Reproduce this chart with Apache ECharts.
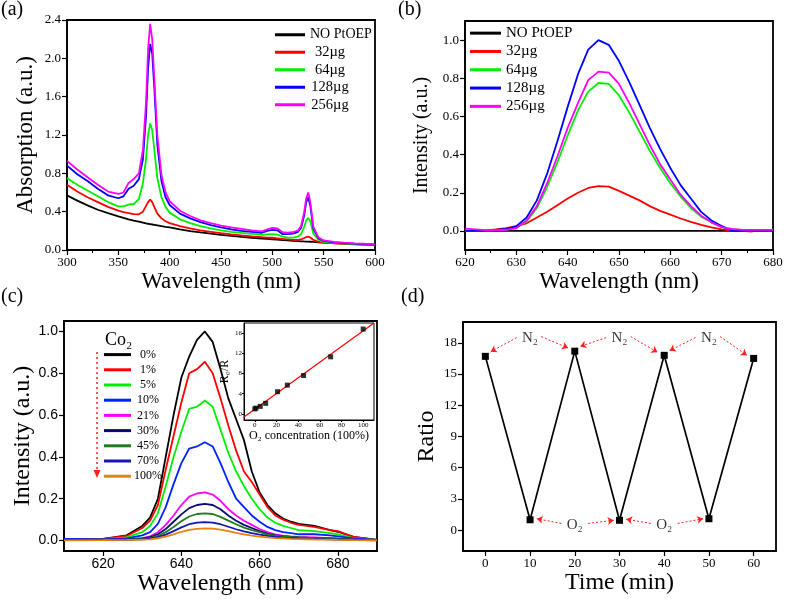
<!DOCTYPE html>
<html><head><meta charset="utf-8">
<script src="https://cdn.jsdelivr.net/npm/echarts@6/dist/echarts.min.js"></script>
<style>html,body{margin:0;padding:0;background:#fff}#c{width:787px;height:599px}</style>
</head><body><div id="c"></div>
<script>
// ---------- DATA ----------
// (a) absorption
const aWave = [300,310,320,330,340,350,355,360,365,370,374,377,379,381,383,385,388,392,396,400,410,420,430,440,450,460,470,480,490,495,500,505,510,515,520,525,528,531,533,535,537,540,545,550,560,570,580,590,600];
const aNone = [.57,.515,.465,.42,.385,.35,.335,.32,.307,.295,.285,.278,.274,.27,.266,.262,.256,.248,.241,.235,.215,.198,.183,.17,.158,.147,.137,.128,.12,.116,.112,.108,.104,.1,.096,.093,.091,.089,.088,.087,.086,.084,.081,.078,.072,.066,.061,.056,.052];
const a32 = [.68,.61,.55,.5,.45,.41,.395,.385,.375,.372,.4,.46,.5,.525,.5,.45,.38,.33,.3,.28,.25,.225,.205,.19,.175,.163,.152,.142,.133,.13,.128,.122,.115,.11,.105,.105,.11,.125,.135,.14,.13,.105,.085,.078,.07,.065,.06,.056,.053];
const a64 = [.75,.68,.62,.56,.5,.455,.455,.475,.48,.53,.7,.95,1.2,1.32,1.25,1.05,.75,.55,.45,.39,.32,.28,.25,.225,.205,.19,.178,.168,.158,.163,.165,.16,.14,.13,.13,.14,.165,.24,.31,.335,.3,.17,.105,.085,.075,.068,.063,.058,.055];
const a128 = [.88,.79,.72,.64,.57,.54,.56,.64,.67,.74,.95,1.4,1.9,2.15,2.05,1.7,1.1,.72,.55,.47,.38,.33,.29,.26,.235,.215,.2,.19,.18,.2,.21,.205,.165,.165,.17,.19,.23,.36,.5,.55,.46,.22,.12,.095,.08,.072,.066,.061,.057];
const a256 = [.93,.84,.76,.68,.61,.585,.6,.7,.74,.8,1.05,1.55,2.1,2.36,2.2,1.8,1.2,.78,.6,.51,.41,.355,.31,.28,.255,.235,.22,.205,.195,.215,.23,.225,.185,.18,.185,.205,.25,.39,.54,.6,.5,.24,.13,.1,.085,.076,.07,.065,.062];
const abNames = ['NO PtOEP','32µg','64µg','128µg','256µg'];
const abColors = ['#000000','#ff0000','#00ee00','#0000ff','#ff00ff'];

// (b) emission
const bWave = [620,622,624,626,628,630,632,634,636,638,640,642,644,646,648,650,652,654,656,658,660,662,664,666,668,670,672,674,676,678,680];
const bNone = [0,0,0,0,0,0,0,0,0,0,0,0,0,0,0,0,0,0,0,0,0,0,0,0,0,0,0,0,0,0,0];
const b32 = [0,0,.003,.008,.015,.025,.04,.07,.1,.135,.17,.2,.225,.235,.232,.21,.185,.16,.13,.105,.085,.065,.047,.032,.018,.008,.002,0,-.003,null,null];
const b64 = [0,0,.002,.004,.006,.015,.05,.12,.23,.36,.5,.63,.73,.775,.77,.71,.62,.52,.42,.33,.25,.18,.12,.075,.045,.02,.008,.005,.005,.005,.005];
const b128 = [0,0,.002,.005,.01,.025,.07,.16,.3,.47,.65,.82,.95,1.0,.975,.89,.78,.66,.54,.43,.33,.24,.17,.1,.055,.025,0,0,.005,.005,.005];
const b256 = [.012,.008,.004,.004,.006,.015,.055,.13,.25,.39,.54,.67,.79,.835,.83,.77,.67,.56,.45,.35,.27,.19,.13,.08,.045,.02,.01,.005,.005,.005,.005];

// (c) emission vs O2 concentration
const cWave = [610,620,626,630,632,634,636,638,640,642,644,646,648,650,652,654,656,658,660,662,664,666,668,670,674,678,680,684,690];
const cNames = ['0%','1%','5%','10%','21%','30%','45%','70%','100%'];
const cColors = ['#000000','#ff0000','#00ee00','#0022ff','#ff00ff','#0a0a6e','#1e7b1e','#1515b4','#e8820c'];
const c0 = [.005,.008,.025,.07,.11,.2,.4,.6,.78,.88,.96,1.0,.95,.82,.68,.58,.48,.33,.23,.17,.13,.105,.09,.08,.07,.05,.042,.018,.003];
const c1 = [.005,.008,.022,.06,.095,.17,.34,.5,.66,.8,.82,.855,.8,.68,.55,.43,.33,.28,.22,.16,.12,.1,.085,.075,.065,.05,.045,.018,.003];
const c5 = [.004,.006,.015,.04,.07,.13,.26,.4,.52,.63,.64,.67,.64,.53,.42,.33,.26,.2,.15,.11,.085,.07,.06,.05,.045,.035,.03,.012,.003];
const c10 = [.008,.006,.01,.025,.04,.08,.16,.27,.37,.44,.45,.47,.45,.37,.28,.2,.16,.12,.09,.065,.05,.04,.035,.03,.03,.025,.02,.01,.003];
const c21 = [.003,.004,.006,.012,.02,.04,.075,.12,.17,.21,.225,.23,.22,.19,.15,.12,.095,.075,.055,.04,.03,.024,.02,.018,.015,.012,.01,.005,.002];
const c30 = [.003,.004,.005,.01,.016,.03,.055,.09,.125,.155,.17,.175,.17,.15,.12,.095,.075,.06,.045,.033,.025,.02,.017,.015,.012,.01,.008,.004,.002];
const c45 = [.002,.003,.004,.008,.012,.022,.04,.065,.092,.115,.127,.13,.127,.113,.095,.078,.062,.05,.04,.03,.024,.02,.017,.015,.012,.01,.008,.004,.002];
const c70 = [.002,.003,.004,.006,.009,.016,.028,.045,.063,.078,.086,.088,.086,.078,.066,.054,.044,.035,.028,.022,.017,.014,.012,.01,.008,.006,.005,.003,.001];
const c100 = [.001,.002,.003,.004,.006,.011,.019,.03,.042,.051,.056,.058,.057,.052,.045,.037,.03,.024,.019,.015,.012,.01,.008,.007,.005,.004,.003,.002,.001];

// (c) inset: R0/R vs O2 concentration
const insetConc = [0,1,5,10,21,30,45,70,100];
const insetRatio = [1.0,1.15,1.5,2.1,4.4,5.7,7.6,11.3,16.8];
const fitConc = [-10,110];
const fitRatio = [-0.6,18.0];

// (d) cycling
const dTime = [0,10,20,30,40,50,60];
const dRatio = [16.7,1.0,17.2,0.95,16.8,1.1,16.5];
const gasN2 = [10,30,50];
const gasO2 = [20,40];

// tick labels
const cxTicks = [620,640,660,680];
const cyTicks = [0,0.2,0.4,0.6,0.8,1.0];
const byTicks = [0,0.2,0.4,0.6,0.8,1.0];
const dxTicks = [0,10,20,30,40,50,60];
const dyTicks = [0,3,6,9,12,15,18];
const ixTicks = [0,20,40,60,80,100];
const iyTicks = [0,4,8,12,16];

// ---------- CHART ----------
const serif = '"Liberation Serif","Times New Roman",serif';
const sans = '"Liberation Sans",Arial,sans-serif';
const zip = (xs, ys) => xs.map((x, i) => [x, ys[i]]);
const fmt1 = v => v.toFixed(1);

function axis(o) {
  const a = {
    type: 'value', gridIndex: o.grid, min: o.min, max: o.max,
    axisLine: {show: true, onZero: false, lineStyle: {color: '#000', width: o.lw || 1.5}},
    axisTick: {show: true, inside: false, length: o.tl || 5, lineStyle: {color: '#000', width: 1.2}},
    axisLabel: {color: '#000', fontFamily: o.lf || serif, fontSize: o.ls || 13, margin: o.lm || 6},
    splitLine: {show: false},
    name: o.name, nameLocation: 'middle', nameGap: o.gap,
    nameTextStyle: {color: '#000', fontFamily: serif, fontSize: o.ns || 23}
  };
  if (o.interval) a.interval = o.interval;
  if (o.custom) { a.axisLabel.customValues = o.custom; a.axisTick.customValues = o.custom; }
  if (o.fmt) a.axisLabel.formatter = o.fmt;
  if (o.minor) a.minorTick = {show: true, splitNumber: o.minor, length: 3, lineStyle: {color: '#000', width: 1}};
  return a;
}

const grids = [
  {left: 67, top: 20, right: 412, bottom: 349},
  {left: 465, top: 21, right: 14, bottom: 349},
  {left: 64, top: 321, right: 410, bottom: 48},
  {left: 244, top: 323, right: 413, bottom: 179},
  {left: 463, top: 322, right: 11, bottom: 48}
].map((g, i) => Object.assign({show: true, borderColor: '#000', borderWidth: i === 3 ? 1 : 1.8, backgroundColor: 'transparent', z: i === 3 ? 5 : 2}, g));

const xAxes = [
  axis({grid: 0, min: 300, max: 600, interval: 50, minor: 2, name: 'Wavelength (nm)', gap: 20}),
  axis({grid: 1, min: 620, max: 680, interval: 10, minor: 2, name: 'Wavelength (nm)', gap: 20}),
  axis({grid: 2, min: 610, max: 690, custom: cxTicks, lf: sans, ls: 14, name: 'Wavelength (nm)', gap: 16, ns: 24}),
  axis({grid: 3, min: -10, max: 110, custom: ixTicks, ls: 7, lm: 2, tl: 2, lw: 1, name: 'O₂ concentration (100%)', gap: 9, ns: 12}),
  axis({grid: 4, min: -5, max: 65, custom: dxTicks, name: 'Time (min)', gap: 20, ns: 24})
];
const yAxes = [
  axis({grid: 0, min: 0, max: 2.4, interval: 0.4, fmt: fmt1, name: 'Absorption (a.u.)', gap: 30}),
  axis({grid: 1, min: -0.1, max: 1.1, custom: byTicks, fmt: fmt1, name: 'Intensity (a.u.)', gap: 33, ns: 20}),
  axis({grid: 2, min: -0.05, max: 1.05, custom: cyTicks, fmt: fmt1, lf: sans, ls: 14, name: 'Intensity (a.u.)', gap: 29, ns: 24}),
  axis({grid: 3, min: -1.2, max: 18, custom: iyTicks, ls: 7, lm: 2, tl: 2, lw: 1, name: 'R₀/R', gap: 12, ns: 12}),
  axis({grid: 4, min: -2, max: 20, custom: dyTicks, name: 'Ratio', gap: 24, ns: 24})
];

const series = [];
const aSets = [aNone, a32, a64, a128, a256];
aSets.forEach((ys, i) => series.push({type: 'line', name: abNames[i], xAxisIndex: 0, yAxisIndex: 0, data: zip(aWave, ys), showSymbol: false, symbol: 'none', color: abColors[i], lineStyle: {width: 1.8}, z: 3 + i}));
const bSets = [bNone, b32, b64, b128, b256];
bSets.forEach((ys, i) => series.push({type: 'line', name: abNames[i], xAxisIndex: 1, yAxisIndex: 1, data: zip(bWave, ys), showSymbol: false, symbol: 'none', color: abColors[i], lineStyle: {width: 1.8}, z: 3 + i}));
const cSets = [c0, c1, c5, c10, c21, c30, c45, c70, c100];
cSets.forEach((ys, i) => series.push({type: 'line', name: cNames[i], xAxisIndex: 2, yAxisIndex: 2, data: zip(cWave, ys), showSymbol: false, symbol: 'none', color: cColors[i], lineStyle: {width: 1.8}, z: 3}));
// inset
series.push({type: 'line', name: 'fit', xAxisIndex: 3, yAxisIndex: 3, data: zip(fitConc, fitRatio), showSymbol: false, symbol: 'none', color: '#ff0000', lineStyle: {width: 1.2}, z: 6});
series.push({type: 'scatter', name: 'ratio', xAxisIndex: 3, yAxisIndex: 3, data: zip(insetConc, insetRatio), symbol: 'rect', symbolSize: 5, itemStyle: {color: '#000'}, z: 7});

// (d) arrows computed from the data points
const arrows = [];
gasN2.forEach(t => {
  const i = dTime.indexOf(t - 10), j = dTime.indexOf(t + 10);
  const ly = 18.5;
  arrows.push([{coord: [t - 3, ly]}, {coord: [dTime[i] + 1.2, dRatio[i] + 0.45]}]);
  arrows.push([{coord: [t + 2.5, ly + 0.1]}, {coord: [dTime[j] - 1.5, dRatio[j] + 0.3]}]);
});
gasO2.forEach(t => {
  const i = dTime.indexOf(t - 10), j = dTime.indexOf(t + 10);
  const ly = 0.65;
  arrows.push([{coord: [t - 3, ly]}, {coord: [dTime[i] + 1.5, dRatio[i] + 0.1]}]);
  arrows.push([{coord: [t + 3, ly]}, {coord: [dTime[j] - 1.3, dRatio[j]]}]);
});
series.push({type: 'line', name: 'cycle', xAxisIndex: 4, yAxisIndex: 4, data: zip(dTime, dRatio), symbol: 'rect', symbolSize: 7, showAllSymbol: true, color: '#000', lineStyle: {width: 1.7}, z: 5,
  markLine: {silent: true, symbol: ['none', 'arrow'], symbolSize: 6, label: {show: false}, lineStyle: {color: '#ff2020', type: [2, 2], width: 1}, data: arrows, animation: false}});
series.push({type: 'scatter', name: 'gas', xAxisIndex: 4, yAxisIndex: 4, symbolSize: 0, z: 6,
  data: gasN2.map(t => ({value: [t, 18.5], name: 'N₂'})).concat(gasO2.map(t => ({value: [t, 0.45], name: 'O₂'}))),
  label: {show: true, position: 'inside', formatter: '{b}', color: '#000', fontFamily: serif, fontSize: 15}});

const legendBase = {orient: 'vertical', icon: 'rect', selectedMode: false, padding: 0, itemGap: 0};
const legends = [
  Object.assign({}, legendBase, {left: 275, top: 26, itemWidth: 30, itemHeight: 3, data: abNames,
    formatter: n => n === 'NO PtOEP' ? n : '{c|' + n + '}',
    textStyle: {fontFamily: serif, fontSize: 14, color: '#000', lineHeight: 17.5, rich: {c: {width: 40, align: 'center', fontFamily: serif, fontSize: 14.5, lineHeight: 17.5}}}}),
  Object.assign({}, legendBase, {left: 470, top: 24, itemWidth: 31, itemHeight: 3, data: abNames,
    textStyle: {fontFamily: serif, fontSize: 15, color: '#000', lineHeight: 18.3}}),
  Object.assign({}, legendBase, {left: 104, top: 347, itemWidth: 27, itemHeight: 3, data: cNames,
    formatter: n => '{c|' + n + '}',
    textStyle: {fontFamily: serif, fontSize: 12, color: '#000', lineHeight: 15.2, rich: {c: {width: 24, align: 'center', fontFamily: serif, fontSize: 12, lineHeight: 15.2}}}})
];

const graphic = [
  {type: 'text', left: 1, top: 0, style: {text: '(a)', font: '20px ' + serif, fill: '#000'}},
  {type: 'text', left: 398, top: 0, style: {text: '(b)', font: '20px ' + serif, fill: '#000'}},
  {type: 'text', left: 1, top: 287, style: {text: '(c)', font: '20px ' + serif, fill: '#000'}},
  {type: 'text', left: 401, top: 287, style: {text: '(d)', font: '20px ' + serif, fill: '#000'}},
  {type: 'text', left: 105, top: 331, style: {text: 'Co₂', font: '18px ' + serif, fill: '#000'}},
  {type: 'line', shape: {x1: 97, y1: 352, x2: 97, y2: 470}, style: {stroke: '#ff2020', lineWidth: 1.5, lineDash: [2, 3]}},
  {type: 'polygon', shape: {points: [[93.5, 470], [100.5, 470], [97, 478]]}, style: {fill: '#ff2020'}}
];

const chart = echarts.init(document.getElementById('c'), null, {renderer: 'canvas'});
chart.setOption({
  backgroundColor: '#fff', animation: false,
  grid: grids, xAxis: xAxes, yAxis: yAxes, series: series, legend: legends, graphic: graphic
});
</script></body></html>
